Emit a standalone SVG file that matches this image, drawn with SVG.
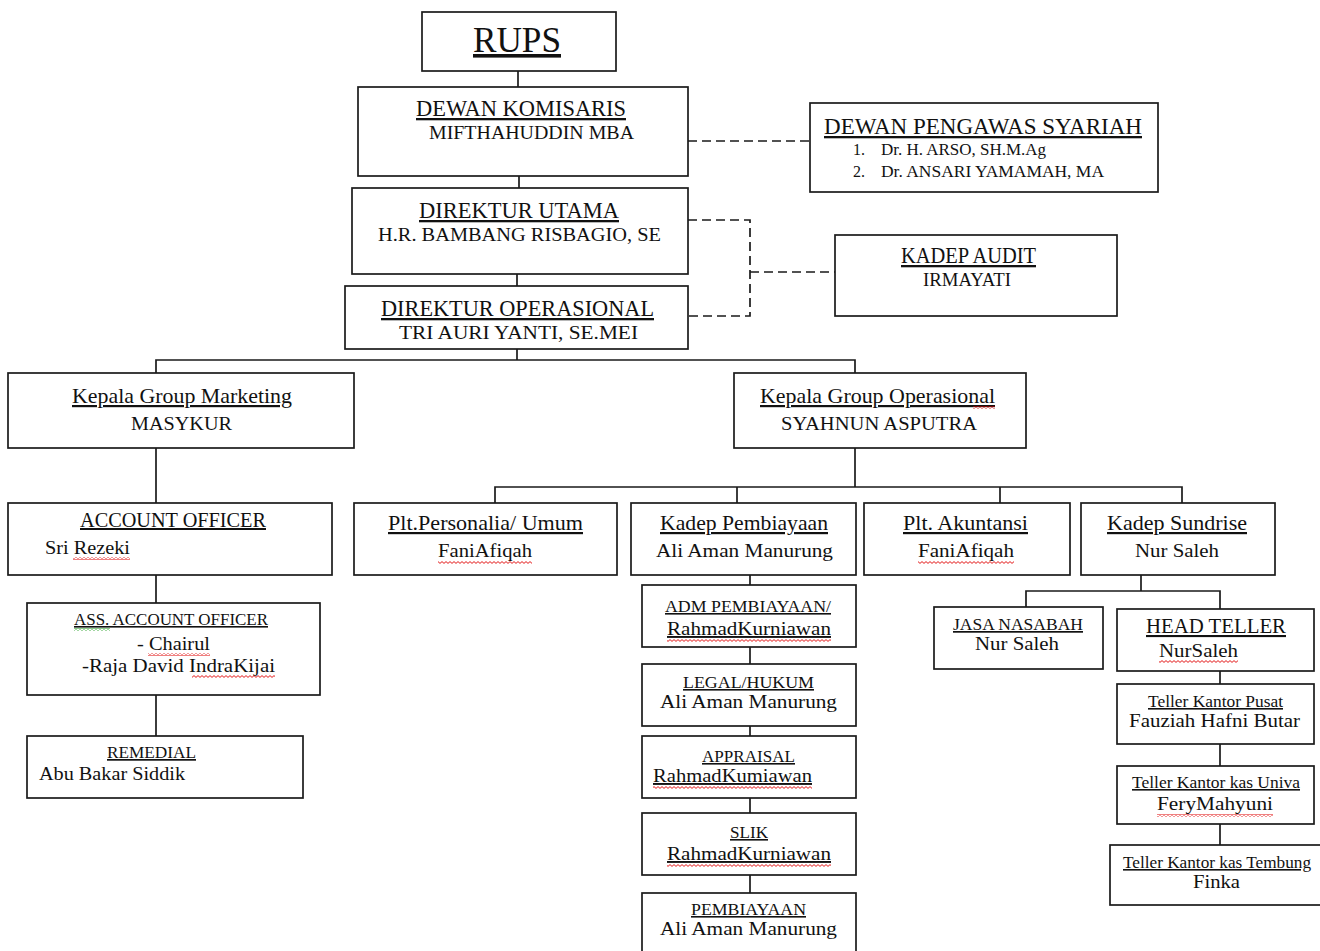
<svg xmlns="http://www.w3.org/2000/svg" width="1320" height="951" viewBox="0 0 1320 951">
<style>
.box{fill:#fff;stroke:#1a1a1a;stroke-width:1.7}
.ln{fill:none;stroke:#1a1a1a;stroke-width:1.7}
.dash{fill:none;stroke:#1a1a1a;stroke-width:1.7;stroke-dasharray:9 5}
text{font-family:"Liberation Serif","Times New Roman",serif;fill:#111}
.u{text-decoration:underline}
.sq{fill:url(#squig)}
.gq{fill:url(#gsquig)}
</style>
<defs>
<pattern id="squig" x="0" y="0" width="4" height="3" patternUnits="userSpaceOnUse">
<path d="M0,2.4 L2,0.6 L4,2.4" fill="none" stroke="#e00000" stroke-width="0.9"/>
</pattern>
<pattern id="gsquig" x="0" y="0" width="4" height="3" patternUnits="userSpaceOnUse">
<path d="M0,2.4 L2,0.6 L4,2.4" fill="none" stroke="#1a9a1a" stroke-width="0.9"/>
</pattern>
</defs>

<g id="connectors">
<line class="ln" x1="518" y1="71" x2="518" y2="87"/>
<line class="ln" x1="519" y1="176" x2="519" y2="188"/>
<line class="ln" x1="517" y1="274" x2="517" y2="286"/>
<line class="dash" x1="688" y1="141" x2="810" y2="141"/>
<polyline class="dash" points="688,220 750,220 750,316 688,316"/>
<line class="dash" x1="750" y1="272" x2="835" y2="272"/>
<line class="ln" x1="517" y1="349" x2="517" y2="360"/>
<polyline class="ln" points="156,374 156,360 855,360 855,374"/>
<line class="ln" x1="156" y1="448" x2="156" y2="503"/>
<line class="ln" x1="156" y1="575" x2="156" y2="603"/>
<line class="ln" x1="156" y1="695" x2="156" y2="736"/>
<line class="ln" x1="855" y1="448" x2="855" y2="487"/>
<polyline class="ln" points="495,503 495,487 1182,487 1182,503"/>
<line class="ln" x1="737" y1="487" x2="737" y2="503"/>
<line class="ln" x1="1000" y1="487" x2="1000" y2="503"/>
<line class="ln" x1="750" y1="575" x2="750" y2="585"/>
<line class="ln" x1="750" y1="647" x2="750" y2="664"/>
<line class="ln" x1="750" y1="726" x2="750" y2="736"/>
<line class="ln" x1="750" y1="798" x2="750" y2="813"/>
<line class="ln" x1="750" y1="875" x2="750" y2="893"/>
<line class="ln" x1="1141" y1="575" x2="1141" y2="591"/>
<polyline class="ln" points="1026,607 1026,591 1220,591 1220,609"/>
<line class="ln" x1="1220" y1="671" x2="1220" y2="684"/>
<line class="ln" x1="1220" y1="744" x2="1220" y2="766"/>
<line class="ln" x1="1220" y1="824" x2="1220" y2="845"/>
</g>

<g id="rups">
<rect class="box" x="422" y="12" width="194" height="59"/>
<text class="u" x="473" y="52" font-size="36" textLength="88" lengthAdjust="spacingAndGlyphs">RUPS</text>
</g>

<g id="dewan-komisaris">
<rect class="box" x="358" y="87" width="330" height="89"/>
<text class="u" x="416" y="116" font-size="23" textLength="210" lengthAdjust="spacingAndGlyphs">DEWAN KOMISARIS</text>
<text x="429" y="139" font-size="19" textLength="205" lengthAdjust="spacingAndGlyphs">MIFTHAHUDDIN MBA</text>
</g>

<g id="dewan-pengawas-syariah">
<rect class="box" x="810" y="103" width="348" height="89"/>
<text class="u" x="824" y="134" font-size="23" textLength="318" lengthAdjust="spacingAndGlyphs">DEWAN PENGAWAS SYARIAH</text>
<text x="853" y="155" font-size="16">1.</text>
<text x="881" y="155" font-size="16" textLength="165" lengthAdjust="spacingAndGlyphs">Dr. H. ARSO, SH.M.Ag</text>
<text x="853" y="177" font-size="16">2.</text>
<text x="881" y="177" font-size="16" textLength="223" lengthAdjust="spacingAndGlyphs">Dr. ANSARI YAMAMAH, MA</text>
</g>

<g id="direktur-utama">
<rect class="box" x="352" y="188" width="336" height="86"/>
<text class="u" x="419" y="218" font-size="23" textLength="200" lengthAdjust="spacingAndGlyphs">DIREKTUR UTAMA</text>
<text x="378" y="241" font-size="19" textLength="283" lengthAdjust="spacingAndGlyphs">H.R. BAMBANG RISBAGIO, SE</text>
</g>

<g id="direktur-operasional">
<rect class="box" x="345" y="286" width="343" height="63"/>
<text class="u" x="381" y="316" font-size="23" textLength="273" lengthAdjust="spacingAndGlyphs">DIREKTUR OPERASIONAL</text>
<text x="399" y="339" font-size="19" textLength="239" lengthAdjust="spacingAndGlyphs">TRI AURI YANTI, SE.MEI</text>
</g>

<g id="kadep-audit">
<rect class="box" x="835" y="235" width="282" height="81"/>
<text class="u" x="901" y="263" font-size="23" textLength="135" lengthAdjust="spacingAndGlyphs">KADEP AUDIT</text>
<text x="923" y="286" font-size="19" textLength="88" lengthAdjust="spacingAndGlyphs">IRMAYATI</text>
</g>

<g id="kepala-group-marketing">
<rect class="box" x="8" y="373" width="346" height="75"/>
<text class="u" x="72" y="403" font-size="22" textLength="220" lengthAdjust="spacingAndGlyphs">Kepala  Group Marketing</text>
<text x="131" y="430" font-size="19" textLength="101" lengthAdjust="spacingAndGlyphs">MASYKUR</text>
</g>

<g id="kepala-group-operasional">
<rect class="box" x="734" y="373" width="292" height="75"/>
<text class="u" x="760" y="403" font-size="22" textLength="235" lengthAdjust="spacingAndGlyphs">Kepala  Group Operasional</text>
<rect class="sq" x="973" y="406" width="22" height="3"/>
<text x="781" y="430" font-size="19" textLength="196" lengthAdjust="spacingAndGlyphs">SYAHNUN ASPUTRA</text>
</g>

<g id="account-officer">
<rect class="box" x="8" y="503" width="324" height="72"/>
<text class="u" x="80" y="527" font-size="20" textLength="186" lengthAdjust="spacingAndGlyphs">ACCOUNT  OFFICER</text>
<text x="45" y="554" font-size="19" textLength="85" lengthAdjust="spacingAndGlyphs">Sri Rezeki</text>
<rect class="sq" x="73" y="557" width="57" height="3"/>
</g>

<g id="plt-personalia">
<rect class="box" x="354" y="503" width="263" height="72"/>
<text class="u" x="388" y="530" font-size="22" textLength="195" lengthAdjust="spacingAndGlyphs">Plt.Personalia/  Umum</text>
<text x="438" y="557" font-size="19" textLength="94" lengthAdjust="spacingAndGlyphs">FaniAfiqah</text>
<rect class="sq" x="438" y="561" width="94" height="3"/>
</g>

<g id="kadep-pembiayaan">
<rect class="box" x="631" y="503" width="225" height="72"/>
<text class="u" x="660" y="530" font-size="22" textLength="168" lengthAdjust="spacingAndGlyphs">Kadep Pembiayaan</text>
<text x="656" y="557" font-size="19" textLength="177" lengthAdjust="spacingAndGlyphs">Ali Aman Manurung</text>
</g>

<g id="plt-akuntansi">
<rect class="box" x="864" y="503" width="206" height="72"/>
<text class="u" x="903" y="530" font-size="22" textLength="125" lengthAdjust="spacingAndGlyphs">Plt. Akuntansi</text>
<text x="918" y="557" font-size="19" textLength="96" lengthAdjust="spacingAndGlyphs">FaniAfiqah</text>
<rect class="sq" x="918" y="561" width="96" height="3"/>
</g>

<g id="kadep-sundrise">
<rect class="box" x="1081" y="503" width="194" height="72"/>
<text class="u" x="1107" y="530" font-size="22" textLength="140" lengthAdjust="spacingAndGlyphs">Kadep Sundrise</text>
<text x="1135" y="557" font-size="19" textLength="84" lengthAdjust="spacingAndGlyphs">Nur Saleh</text>
</g>

<g id="ass-account-officer">
<rect class="box" x="27" y="603" width="293" height="92"/>
<text class="u" x="74" y="625" font-size="16" textLength="194" lengthAdjust="spacingAndGlyphs">ASS. ACCOUNT OFFICER</text>
<rect class="gq" x="74" y="628" width="36" height="3"/>
<text x="137" y="650" font-size="19" textLength="73" lengthAdjust="spacingAndGlyphs">- Chairul</text>
<rect class="sq" x="148" y="653" width="62" height="3"/>
<text x="82" y="672" font-size="19" textLength="193" lengthAdjust="spacingAndGlyphs">-Raja David IndraKijai</text>
<rect class="sq" x="192" y="675" width="83" height="3"/>
</g>

<g id="remedial">
<rect class="box" x="27" y="736" width="276" height="62"/>
<text class="u" x="107" y="758" font-size="17" textLength="89" lengthAdjust="spacingAndGlyphs">REMEDIAL</text>
<text x="39" y="780" font-size="19" textLength="146" lengthAdjust="spacingAndGlyphs">Abu Bakar Siddik</text>
</g>

<g id="adm-pembiayaan">
<rect class="box" x="642" y="585" width="214" height="62"/>
<text class="u" x="665" y="612" font-size="16" textLength="166" lengthAdjust="spacingAndGlyphs">ADM PEMBIAYAAN/</text>
<text class="u" x="667" y="635" font-size="19" textLength="164" lengthAdjust="spacingAndGlyphs">RahmadKurniawan</text>
<rect class="sq" x="667" y="639" width="164" height="3"/>
</g>

<g id="legal-hukum">
<rect class="box" x="642" y="664" width="214" height="62"/>
<text class="u" x="683" y="688" font-size="16" textLength="131" lengthAdjust="spacingAndGlyphs">LEGAL/HUKUM</text>
<text x="660" y="708" font-size="19" textLength="177" lengthAdjust="spacingAndGlyphs">Ali Aman Manurung</text>
</g>

<g id="appraisal">
<rect class="box" x="642" y="736" width="214" height="62"/>
<text class="u" x="702" y="762" font-size="16" textLength="93" lengthAdjust="spacingAndGlyphs">APPRAISAL</text>
<text class="u" x="653" y="782" font-size="19" textLength="159" lengthAdjust="spacingAndGlyphs">RahmadKumiawan</text>
<rect class="sq" x="653" y="786" width="159" height="3"/>
</g>

<g id="slik">
<rect class="box" x="642" y="813" width="214" height="62"/>
<text class="u" x="730" y="838" font-size="16" textLength="38" lengthAdjust="spacingAndGlyphs">SLIK</text>
<text class="u" x="667" y="860" font-size="19" textLength="164" lengthAdjust="spacingAndGlyphs">RahmadKurniawan</text>
<rect class="sq" x="667" y="864" width="164" height="3"/>
</g>

<g id="pembiayaan">
<rect class="box" x="642" y="893" width="214" height="70"/>
<text class="u" x="691" y="915" font-size="16" textLength="115" lengthAdjust="spacingAndGlyphs">PEMBIAYAAN</text>
<text x="660" y="935" font-size="19" textLength="177" lengthAdjust="spacingAndGlyphs">Ali Aman Manurung</text>
</g>

<g id="jasa-nasabah">
<rect class="box" x="934" y="607" width="169" height="62"/>
<text class="u" x="953" y="630" font-size="17" textLength="130" lengthAdjust="spacingAndGlyphs">JASA NASABAH</text>
<text x="975" y="650" font-size="19" textLength="84" lengthAdjust="spacingAndGlyphs">Nur Saleh</text>
</g>

<g id="head-teller">
<rect class="box" x="1117" y="609" width="197" height="62"/>
<text class="u" x="1146" y="633" font-size="21" textLength="140" lengthAdjust="spacingAndGlyphs">HEAD TELLER</text>
<text x="1159" y="657" font-size="19" textLength="79" lengthAdjust="spacingAndGlyphs">NurSaleh</text>
<rect class="sq" x="1159" y="660" width="79" height="3"/>
</g>

<g id="teller-kantor-pusat">
<rect class="box" x="1117" y="684" width="197" height="60"/>
<text class="u" x="1148" y="707" font-size="16" textLength="135" lengthAdjust="spacingAndGlyphs">Teller Kantor Pusat</text>
<text x="1129" y="727" font-size="18" textLength="171" lengthAdjust="spacingAndGlyphs">Fauziah Hafni Butar</text>
</g>

<g id="teller-kantor-kas-univa">
<rect class="box" x="1117" y="766" width="197" height="58"/>
<text class="u" x="1132" y="788" font-size="16" textLength="168" lengthAdjust="spacingAndGlyphs">Teller Kantor kas Univa</text>
<text x="1157" y="810" font-size="19" textLength="116" lengthAdjust="spacingAndGlyphs">FeryMahyuni</text>
<rect class="sq" x="1157" y="814" width="116" height="3"/>
</g>

<g id="teller-kantor-kas-tembung">
<rect class="box" x="1110" y="845" width="214" height="60"/>
<text class="u" x="1123" y="868" font-size="16" textLength="188" lengthAdjust="spacingAndGlyphs">Teller Kantor kas Tembung</text>
<text x="1193" y="888" font-size="19" textLength="47" lengthAdjust="spacingAndGlyphs">Finka</text>
</g>
</svg>
